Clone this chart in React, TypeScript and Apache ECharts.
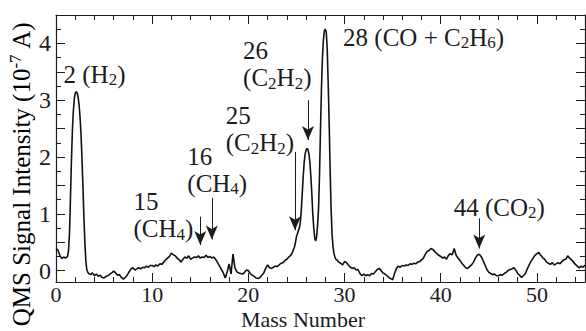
import React, { useEffect, useRef } from "react";
import * as echarts from "echarts";

// [mass number, QMS signal intensity (1e-7 A)]
const spectrum: [number, number][] = [
  [0.0, 0.39], [0.2, 0.36], [0.4, 0.27], [0.6, 0.21], [0.8, 0.24], [1.0, 0.22], [1.2, 0.25],
  [1.3, 0.35], [1.4, 0.65], [1.5, 1.25], [1.6, 1.9], [1.7, 2.45], [1.8, 2.8], [1.9, 3.02],
  [2.0, 3.12], [2.1, 3.15], [2.2, 3.13], [2.3, 3.05], [2.4, 2.92], [2.5, 2.7], [2.6, 2.4],
  [2.7, 1.98], [2.8, 1.5], [2.9, 0.95], [3.0, 0.5], [3.1, 0.18], [3.2, 0.02], [3.3, -0.03], [3.4, -0.05],
  [3.6, -0.07], [3.8, -0.04], [4.0, -0.09], [4.2, -0.06], [4.4, -0.1], [4.6, -0.08], [4.8, -0.12],
  [5.0, -0.13], [5.2, -0.1], [5.4, -0.09], [5.6, -0.06], [5.8, -0.04], [6.0, -0.01], [6.2, -0.04],
  [6.4, -0.08], [6.6, -0.07], [6.8, -0.12], [7.0, -0.15], [7.2, -0.12], [7.4, -0.08], [7.6, -0.02],
  [7.8, 0.03], [8.0, 0.05], [8.2, 0.01], [8.4, 0.03], [8.6, 0.05], [8.8, 0.03], [9.0, 0.06],
  [9.2, 0.05], [9.4, 0.08], [9.6, 0.06], [9.8, 0.09], [10.0, 0.09], [10.2, 0.07], [10.4, 0.1],
  [10.6, 0.08], [10.8, 0.12], [11.0, 0.11], [11.2, 0.15], [11.4, 0.19], [11.6, 0.22], [11.8, 0.25],
  [12.0, 0.31], [12.2, 0.28], [12.4, 0.26], [12.6, 0.22], [12.8, 0.19], [13.0, 0.15], [13.2, 0.2],
  [13.4, 0.24], [13.6, 0.22], [13.8, 0.26], [14.0, 0.2], [14.2, 0.22], [14.4, 0.24], [14.6, 0.23],
  [14.8, 0.26], [15.0, 0.22], [15.2, 0.24], [15.4, 0.23], [15.6, 0.27], [15.8, 0.23], [16.0, 0.25],
  [16.2, 0.22], [16.4, 0.24], [16.6, 0.2], [16.8, 0.14], [17.0, 0.08], [17.2, 0.02], [17.4, -0.04],
  [17.6, -0.13], [17.8, -0.02], [18.0, 0.12], [18.2, -0.06], [18.4, 0.29], [18.6, 0.05], [18.8, -0.02],
  [19.0, -0.04], [19.2, -0.05], [19.4, -0.06], [19.6, -0.03], [19.8, 0.01], [20.0, 0.0], [20.2, -0.05],
  [20.4, -0.08], [20.6, -0.1], [20.8, -0.13], [21.0, -0.14], [21.2, -0.12], [21.4, -0.08], [21.6, -0.04],
  [21.8, 0.04], [22.0, 0.1], [22.2, 0.05], [22.4, 0.04], [22.6, 0.06], [22.8, 0.08], [23.0, 0.07],
  [23.2, 0.1], [23.4, 0.13], [23.6, 0.14], [23.8, 0.18], [24.0, 0.2], [24.2, 0.24], [24.4, 0.27],
  [24.6, 0.33], [24.8, 0.42], [24.9, 0.5], [25.0, 0.6], [25.1, 0.65], [25.2, 0.7], [25.3, 0.75],
  [25.4, 0.85], [25.5, 1.05], [25.6, 1.35], [25.7, 1.65], [25.8, 1.9], [25.9, 2.05], [26.0, 2.12],
  [26.1, 2.15], [26.2, 2.13], [26.3, 2.05], [26.4, 1.9], [26.5, 1.65], [26.6, 1.35], [26.7, 1.0],
  [26.8, 0.75], [26.9, 0.58], [27.0, 0.52], [27.1, 0.6], [27.2, 0.8], [27.3, 1.1], [27.4, 1.7],
  [27.5, 2.5], [27.6, 3.2], [27.7, 3.75], [27.8, 4.05], [27.9, 4.22], [28.0, 4.25], [28.1, 4.2],
  [28.2, 3.9], [28.3, 3.3], [28.4, 2.6], [28.5, 1.8], [28.6, 1.1], [28.7, 0.65], [28.8, 0.42],
  [28.9, 0.3], [29.0, 0.24], [29.1, 0.2], [29.2, 0.19], [29.4, 0.15], [29.6, 0.13], [29.8, 0.1],
  [30.0, 0.16], [30.2, 0.14], [30.4, 0.1], [30.6, 0.06], [30.8, 0.04], [31.0, 0.05], [31.2, 0.01],
  [31.4, 0.02], [31.6, -0.05], [31.8, -0.09], [32.0, -0.06], [32.2, -0.09], [32.4, -0.07], [32.6, -0.09],
  [32.8, -0.05], [33.0, -0.06], [33.2, -0.02], [33.4, 0.02], [33.6, 0.04], [33.8, 0.0], [34.0, -0.04],
  [34.2, -0.06], [34.4, -0.09], [34.6, -0.12], [34.8, -0.14], [35.0, -0.16], [35.2, -0.05], [35.4, 0.04],
  [35.6, 0.08], [35.8, 0.06], [36.0, 0.09], [36.2, 0.08], [36.4, 0.1], [36.6, 0.09], [36.8, 0.12],
  [37.0, 0.11], [37.2, 0.13], [37.4, 0.12], [37.6, 0.15], [37.8, 0.16], [38.0, 0.19], [38.2, 0.22],
  [38.4, 0.29], [38.6, 0.34], [38.8, 0.36], [39.0, 0.39], [39.2, 0.37], [39.4, 0.33], [39.6, 0.3],
  [39.8, 0.27], [40.0, 0.25], [40.2, 0.22], [40.4, 0.24], [40.6, 0.2], [40.8, 0.27], [41.0, 0.3],
  [41.2, 0.28], [41.4, 0.39], [41.6, 0.27], [41.8, 0.22], [42.0, 0.18], [42.2, 0.13], [42.4, 0.09],
  [42.6, 0.05], [42.8, 0.04], [43.0, 0.07], [43.2, 0.1], [43.4, 0.15], [43.6, 0.22], [43.8, 0.27],
  [44.0, 0.29], [44.2, 0.25], [44.4, 0.18], [44.6, 0.1], [44.8, 0.02], [45.0, -0.03], [45.2, -0.05],
  [45.4, -0.07], [45.6, -0.06], [45.8, -0.09], [46.0, -0.09], [46.2, -0.07], [46.4, -0.08], [46.6, -0.05],
  [46.8, -0.03], [47.0, 0.0], [47.2, 0.02], [47.4, 0.03], [47.6, 0.05], [47.8, 0.01], [48.0, -0.05],
  [48.2, -0.08], [48.4, -0.12], [48.6, -0.09], [48.8, -0.05], [49.0, 0.03], [49.2, 0.1], [49.4, 0.17],
  [49.6, 0.22], [49.8, 0.27], [50.0, 0.3], [50.2, 0.32], [50.4, 0.27], [50.6, 0.23], [50.8, 0.2],
  [51.0, 0.15], [51.2, 0.13], [51.4, 0.11], [51.6, 0.14], [51.8, 0.1], [52.0, 0.12], [52.2, 0.14],
  [52.4, 0.12], [52.6, 0.16], [52.8, 0.19], [53.0, 0.2], [53.2, 0.26], [53.4, 0.22], [53.6, 0.19],
  [53.8, 0.15], [54.0, 0.11], [54.2, 0.08], [54.4, 0.05], [54.6, 0.08], [54.8, 0.06], [55.0, 0.1],
];

const xMajorTicks = [0, 10, 20, 30, 40, 50];
const xMinorTicks = [2, 4, 6, 8, 12, 14, 16, 18, 22, 24, 26, 28, 32, 34, 36, 38, 42, 44, 46, 48, 52, 54];
const yMajorTicks = [0, 0.5, 1, 1.5, 2, 2.5, 3, 3.5, 4, 4.5];
const yMinorTicks = [0.25, 0.75, 1.25, 1.75, 2.25, 2.75, 3.25, 3.75, 4.25];
const yTickLabels = [0, 1, 2, 3, 4];

// peak annotations (rich text) and their anchor (left edge, vertical centre) in data units
const peakLabels = [
  "{t|2 (H}{s|2}{t|)}",
  "{t|15}\n{t|(CH}{s|4}{t|)}",
  "{t|16}\n{t|(CH}{s|4}{t|)}",
  "{t|25}\n{t|(C}{s|2}{t|H}{s|2}{t|)}",
  "{t|26}\n{t|(C}{s|2}{t|H}{s|2}{t|)}",
  "{t|28 (CO + C}{s|2}{t|H}{s|6}{t|)}",
  "{t|44 (CO}{s|2}{t|)}",
];
const peakLabelMass = [0.73, 8.0, 13.6, 17.6, 19.4, 29.8, 41.3];
const peakLabelIntensity = [3.46, 0.97, 1.77, 2.48, 3.62, 4.11, 1.12];

// arrows: mass, start (top) and tip intensity
const arrowMass = [15, 16.2, 24.85, 26.2, 44];
const arrowStart = [0.95, 1.28, 2.09, 3.0, 0.92];
const arrowTip = [0.45, 0.55, 0.71, 2.3, 0.39];

const FONT = "Liberation Serif";
const INK = "#1c1c1c";

const rich = {
  t: { fontSize: 25, fontFamily: FONT, color: INK, lineHeight: 26 },
  s: { fontSize: 17, fontFamily: FONT, color: INK, padding: [11, 0, 0, 0] },
  p: { fontSize: 17, fontFamily: FONT, color: INK, padding: [0, 0, 12, 0] },
};

export default function App() {
  const ref = useRef<HTMLDivElement>(null);
  useEffect(() => {
    if (!ref.current) return;
    const chart = echarts.init(ref.current, undefined, { renderer: "svg" });
    const common = { min: 0, max: 55, splitLine: { show: false } };
    const commonY = { min: -0.2, max: 4.5, splitLine: { show: false } };
    const lineOn = { show: true, onZero: false, lineStyle: { color: INK, width: 1.2 } };
    const lineOff = { show: false, onZero: false };
    const labelFont = { fontSize: 24, fontFamily: FONT, color: INK };
    chart.setOption({
      animation: false,
      grid: { left: 56, right: 1, top: 15, bottom: 49, containLabel: false },
      xAxis: [
        {
          type: "value", position: "bottom", ...common, axisLine: lineOn,
          axisTick: { inside: true, length: 9, customValues: xMajorTicks, lineStyle: { color: INK } },
          axisLabel: { ...labelFont, fontSize: 22, margin: 1, customValues: xMajorTicks },
        },
        {
          type: "value", position: "bottom", ...common, axisLine: lineOff,
          axisTick: { inside: true, length: 5, customValues: xMinorTicks, lineStyle: { color: INK } },
          axisLabel: { show: false },
        },
        {
          type: "value", position: "top", ...common, axisLine: lineOn,
          axisTick: { inside: true, length: 9, customValues: xMajorTicks, lineStyle: { color: INK } },
          axisLabel: { show: false },
        },
        {
          type: "value", position: "top", ...common, axisLine: lineOff,
          axisTick: { inside: true, length: 5, customValues: xMinorTicks, lineStyle: { color: INK } },
          axisLabel: { show: false },
        },
      ],
      yAxis: [
        {
          type: "value", position: "left", ...commonY, axisLine: lineOn,
          axisTick: { inside: true, length: 9, customValues: yMajorTicks, lineStyle: { color: INK } },
          axisLabel: { ...labelFont, margin: 5, customValues: yTickLabels },
        },
        {
          type: "value", position: "left", ...commonY, axisLine: lineOff,
          axisTick: { inside: true, length: 5, customValues: yMinorTicks, lineStyle: { color: INK } },
          axisLabel: { show: false },
        },
        {
          type: "value", position: "right", ...commonY, axisLine: lineOn,
          axisTick: { inside: true, length: 9, customValues: yMajorTicks, lineStyle: { color: INK } },
          axisLabel: { show: false },
        },
        {
          type: "value", position: "right", ...commonY, axisLine: lineOff,
          axisTick: { inside: true, length: 5, customValues: yMinorTicks, lineStyle: { color: INK } },
          axisLabel: { show: false },
        },
      ],
      graphic: [
        {
          type: "text", x: 21, y: 174, rotation: Math.PI / 2,
          style: {
            text: "{t|QMS Signal Intensity (10}{p|-7}{t| A)}",
            rich, align: "center", verticalAlign: "middle",
          },
        },
        {
          type: "text", x: 303, y: 319.5,
          style: {
            text: "Mass Number", fontSize: 22, fontFamily: FONT, fill: INK,
            align: "center", verticalAlign: "middle",
          },
        },
      ],
      series: [
        {
          type: "line",
          xAxisIndex: 0,
          yAxisIndex: 0,
          data: spectrum,
          showSymbol: false,
          silent: true,
          lineStyle: { color: "#111", width: 1.6 },
          markLine: {
            silent: true,
            symbol: ["none", "arrow"],
            symbolSize: [9, 14],
            label: { show: false },
            lineStyle: { color: INK, width: 1, type: "solid" },
            data: arrowMass.map((m, i) => [
              { coord: [m, arrowStart[i]] },
              { coord: [m, arrowTip[i]] },
            ]),
          },
          markPoint: {
            silent: true,
            symbol: "circle",
            symbolSize: 1,
            itemStyle: { color: "transparent" },
            label: { show: true, position: "right", distance: 0 },
            data: peakLabels.map((txt, i) => ({
              coord: [peakLabelMass[i], peakLabelIntensity[i]],
              label: {
                show: true, position: "right", distance: 0, formatter: txt, rich,
              },
            })),
          },
        },
      ],
    });
    return () => chart.dispose();
  }, []);
  return (
    <div
      ref={ref}
      style={{ position: "fixed", left: 0, top: 0, width: 586, height: 331, background: "#fff" }}
    />
  );
}
